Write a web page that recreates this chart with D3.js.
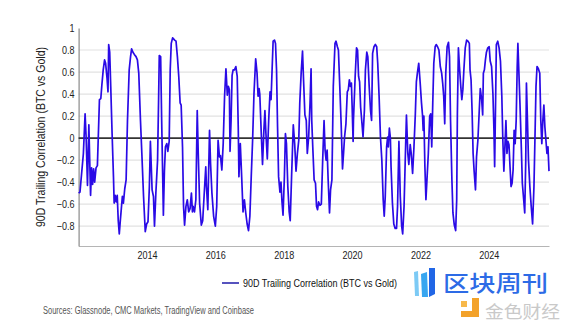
<!DOCTYPE html>
<html>
<head>
<meta charset="utf-8">
<script src="https://cdn.jsdelivr.net/npm/d3@7"></script>
<style>
  html, body { margin: 0; padding: 0; background: #fff; }
  svg { display: block; font-family: "Liberation Sans", Arial, sans-serif; }
</style>
</head>
<body>
<svg id="chart" width="572" height="328"></svg>
<script>
// ---------------- data ----------------
const seriesName = "90D Trailing Correlation (BTC vs Gold)";
const yTitle = "90D Trailing Correlation (BTC vs Gold)";
const sourceText = "Sources: Glassnode, CMC Markets, TradingView and Coinbase";
const yTicks = [1, 0.8, 0.6, 0.4, 0.2, 0, -0.2, -0.4, -0.6, -0.8];
const xTickYears = [2014, 2016, 2018, 2020, 2022, 2024];
const watermarkTitle = "区块周刊";
const watermarkSub = "金色财经";

// [decimal year, correlation]
const corrSeries = [
[2012.00,-0.50],[2012.04,-0.49],[2012.14,-0.14],[2012.19,0.22],[2012.22,0.01],[2012.26,-0.43],
[2012.30,0.12],[2012.35,-0.52],[2012.38,-0.27],[2012.41,-0.42],[2012.44,-0.28],[2012.47,-0.40],
[2012.51,-0.27],[2012.55,-0.25],[2012.61,0.35],[2012.65,0.36],[2012.68,0.48],[2012.72,0.62],
[2012.76,0.71],[2012.79,0.68],[2012.83,0.55],[2012.86,0.42],[2012.88,0.85],[2012.91,0.78],
[2012.94,0.47],[2012.98,0.04],[2013.02,-0.35],[2013.04,-0.59],[2013.07,-0.52],[2013.10,-0.58],
[2013.13,-0.52],[2013.16,-0.75],[2013.19,-0.87],[2013.22,-0.75],[2013.25,-0.64],[2013.28,-0.53],
[2013.31,-0.59],[2013.35,-0.46],[2013.39,-0.38],[2013.43,0.16],[2013.48,0.62],[2013.52,0.74],
[2013.55,0.81],[2013.59,0.78],[2013.63,0.76],[2013.68,0.74],[2013.72,0.71],[2013.76,0.59],
[2013.81,0.16],[2013.85,-0.14],[2013.90,-0.53],[2013.95,-0.85],[2013.99,-0.78],[2014.03,-0.76],
[2014.07,-0.44],[2014.10,-0.03],[2014.15,-0.47],[2014.19,-0.53],[2014.22,-0.80],[2014.26,-0.50],
[2014.31,-0.20],[2014.34,0.35],[2014.36,0.75],[2014.40,0.74],[2014.43,0.16],[2014.46,-0.35],
[2014.48,-0.70],[2014.51,-0.30],[2014.54,-0.08],[2014.58,-0.05],[2014.61,-0.12],[2014.65,-0.03],
[2014.68,0.62],[2014.71,0.86],[2014.75,0.91],[2014.81,0.89],[2014.85,0.88],[2014.89,0.74],
[2014.93,0.56],[2014.97,0.32],[2015.00,0.30],[2015.04,-0.08],[2015.07,-0.62],[2015.10,-0.79],
[2015.14,-0.62],[2015.18,-0.56],[2015.22,-0.67],[2015.26,-0.64],[2015.30,-0.50],[2015.33,-0.67],
[2015.35,-0.62],[2015.39,-0.67],[2015.43,-0.56],[2015.47,0.25],[2015.50,-0.14],[2015.54,-0.59],
[2015.59,-0.79],[2015.63,-0.75],[2015.67,-0.53],[2015.72,-0.26],[2015.74,-0.44],[2015.78,-0.65],
[2015.83,0.07],[2015.86,-0.23],[2015.90,-0.50],[2015.95,-0.71],[2016.00,-0.80],[2016.04,-0.62],
[2016.08,-0.02],[2016.12,-0.17],[2016.15,-0.16],[2016.19,-0.29],[2016.23,-0.05],[2016.27,0.38],
[2016.31,0.63],[2016.35,0.39],[2016.38,0.47],[2016.41,0.44],[2016.43,-0.12],[2016.46,0.16],
[2016.49,0.57],[2016.52,0.62],[2016.56,0.62],[2016.60,0.65],[2016.64,0.56],[2016.67,0.10],
[2016.69,-0.35],[2016.73,-0.05],[2016.77,-0.35],[2016.81,-0.67],[2016.85,-0.56],[2016.89,-0.68],
[2016.93,-0.78],[2016.97,-0.84],[2017.01,-0.71],[2017.05,-0.35],[2017.09,-0.02],[2017.13,0.40],
[2017.18,0.72],[2017.22,0.59],[2017.25,0.38],[2017.28,0.45],[2017.30,0.40],[2017.34,0.07],
[2017.38,-0.24],[2017.42,0.07],[2017.45,0.25],[2017.48,0.04],[2017.52,-0.19],[2017.56,0.16],
[2017.60,0.42],[2017.63,0.35],[2017.66,0.62],[2017.69,0.88],[2017.73,0.89],[2017.76,0.86],
[2017.79,0.62],[2017.82,0.10],[2017.85,-0.35],[2017.89,-0.49],[2017.92,-0.40],[2017.95,-0.58],
[2017.98,-0.70],[2018.02,-0.35],[2018.05,0.04],[2018.08,-0.05],[2018.12,-0.44],[2018.16,-0.67],
[2018.19,-0.75],[2018.23,-0.35],[2018.28,0.12],[2018.32,-0.05],[2018.36,-0.30],[2018.40,-0.14],
[2018.44,-0.02],[2018.47,0.32],[2018.51,0.59],[2018.55,0.79],[2018.58,0.53],[2018.62,0.21],
[2018.66,0.16],[2018.69,-0.14],[2018.73,0.01],[2018.77,0.32],[2018.80,0.63],[2018.82,0.16],
[2018.85,-0.08],[2018.89,-0.38],[2018.93,-0.41],[2018.96,-0.62],[2018.99,-0.65],[2019.02,-0.58],
[2019.06,-0.61],[2019.10,-0.60],[2019.14,-0.20],[2019.18,0.16],[2019.21,-0.11],[2019.24,-0.20],
[2019.27,-0.11],[2019.30,-0.38],[2019.34,-0.68],[2019.37,-0.47],[2019.41,-0.38],[2019.45,0.47],
[2019.50,0.86],[2019.53,0.88],[2019.57,0.83],[2019.60,0.80],[2019.64,0.47],[2019.68,0.13],
[2019.72,-0.28],[2019.75,-0.14],[2019.78,0.01],[2019.82,0.13],[2019.86,0.42],[2019.89,0.44],
[2019.92,0.53],[2019.95,0.47],[2019.98,0.50],[2020.00,0.30],[2020.03,-0.03],[2020.04,0.16],
[2020.09,0.56],[2020.13,0.82],[2020.16,0.80],[2020.19,0.56],[2020.22,0.51],[2020.25,0.28],
[2020.29,0.13],[2020.32,0.01],[2020.36,0.25],[2020.39,0.62],[2020.43,0.78],[2020.46,0.74],
[2020.50,0.47],[2020.54,0.25],[2020.57,0.16],[2020.60,0.77],[2020.64,0.83],[2020.68,0.85],
[2020.72,0.83],[2020.75,0.68],[2020.79,0.38],[2020.83,0.01],[2020.87,-0.20],[2020.91,-0.56],
[2020.94,-0.71],[2020.97,-0.53],[2021.01,-0.08],[2021.04,0.01],[2021.06,-0.08],[2021.09,0.09],
[2021.12,0.00],[2021.14,-0.26],[2021.18,-0.59],[2021.22,-0.78],[2021.26,-0.82],[2021.30,-0.82],
[2021.33,-0.62],[2021.37,-0.03],[2021.41,-0.53],[2021.45,-0.80],[2021.48,-0.87],[2021.52,-0.62],
[2021.55,-0.26],[2021.59,0.21],[2021.63,-0.14],[2021.66,-0.24],[2021.70,-0.06],[2021.73,-0.14],
[2021.77,-0.32],[2021.81,-0.08],[2021.85,0.22],[2021.88,0.51],[2021.91,0.59],[2021.95,0.68],
[2021.99,0.51],[2022.03,0.32],[2022.06,0.21],[2022.08,0.07],[2022.10,0.20],[2022.13,-0.26],
[2022.16,-0.56],[2022.19,-0.38],[2022.23,-0.14],[2022.27,0.20],[2022.30,0.22],[2022.33,-0.08],
[2022.36,0.32],[2022.39,0.68],[2022.43,0.83],[2022.46,0.85],[2022.50,0.83],[2022.54,0.80],
[2022.58,0.65],[2022.62,0.59],[2022.65,0.50],[2022.68,0.38],[2022.71,0.13],[2022.74,0.59],
[2022.78,0.83],[2022.82,0.87],[2022.85,0.74],[2022.88,0.16],[2022.92,-0.38],[2022.95,-0.68],
[2022.99,-0.79],[2023.03,-0.84],[2023.06,-0.56],[2023.08,0.22],[2023.11,0.82],[2023.14,0.65],
[2023.18,0.47],[2023.21,0.35],[2023.24,0.44],[2023.27,0.62],[2023.31,0.82],[2023.35,0.89],
[2023.39,0.88],[2023.43,0.86],[2023.45,0.62],[2023.48,0.53],[2023.51,0.25],[2023.54,-0.14],
[2023.57,-0.30],[2023.61,-0.47],[2023.64,-0.17],[2023.68,-0.02],[2023.72,0.25],[2023.75,0.45],
[2023.79,0.35],[2023.82,0.21],[2023.84,0.59],[2023.87,0.62],[2023.90,0.71],[2023.93,0.78],
[2023.97,0.82],[2024.01,0.83],[2024.04,0.70],[2024.08,0.65],[2024.12,0.40],[2024.15,0.07],
[2024.17,-0.26],[2024.20,0.38],[2024.22,0.85],[2024.26,0.88],[2024.30,0.82],[2024.34,0.70],
[2024.38,0.38],[2024.41,-0.02],[2024.44,-0.30],[2024.47,-0.08],[2024.50,0.16],[2024.53,-0.14],
[2024.56,-0.03],[2024.59,-0.06],[2024.62,-0.26],[2024.65,-0.44],[2024.68,-0.41],[2024.71,-0.29],
[2024.74,0.07],[2024.77,-0.05],[2024.80,0.16],[2024.83,0.65],[2024.85,0.86],[2024.88,0.59],
[2024.91,0.32],[2024.95,-0.08],[2024.98,-0.41],[2025.02,-0.56],[2025.05,-0.68],[2025.08,-0.20],
[2025.10,0.50],[2025.13,0.16],[2025.16,-0.20],[2025.20,-0.44],[2025.24,-0.62],[2025.28,-0.78],
[2025.32,-0.44],[2025.35,0.01],[2025.38,0.47],[2025.41,0.65],[2025.45,0.63],[2025.49,0.59],
[2025.52,0.16],[2025.55,-0.05],[2025.58,0.16],[2025.61,0.30],[2025.64,0.10],[2025.67,-0.02],
[2025.70,-0.14],[2025.73,-0.08],[2025.76,-0.30]
];

// ---------------- drawing ----------------
const svg = d3.select("#chart");
const plotLeft = 78.6, plotRight = 549, plotTop = 28, plotBottom = 246;

const x = d3.scaleLinear().domain([2012, 2025.76]).range([plotLeft, plotRight]);
const y = d3.scaleLinear().domain([-0.98, 1]).range([plotBottom, plotTop]);

function condense(sel, factor) {
  sel.each(function () {
    const w = this.getComputedTextLength();
    this.setAttribute("textLength", (w * factor).toFixed(1));
    this.setAttribute("lengthAdjust", "spacingAndGlyphs");
  });
}

// gridlines
svg.append("g").selectAll("line")
  .data(yTicks.filter(d => d !== 0 && d !== 1))
  .join("line")
  .attr("x1", plotLeft).attr("x2", plotRight)
  .attr("y1", d => y(d)).attr("y2", d => y(d))
  .attr("stroke", "#e2e2e2").attr("stroke-width", 1.2);

// bottom axis
const xAxis = svg.append("g")
  .attr("transform", `translate(0,${plotBottom})`)
  .call(d3.axisBottom(x).tickValues(xTickYears).tickFormat(d3.format("d")).tickSize(0).tickPadding(5));
xAxis.select(".domain").attr("stroke", "#b5b5b5").attr("stroke-width", 1.2);
xAxis.selectAll("text").attr("font-size", 11).attr("fill", "#222")
  .attr("font-family", '"Liberation Sans", Arial, sans-serif');
condense(xAxis.selectAll("text"), 0.82);

// left axis
const yFmt = d => (d === 0 || d === 1) ? String(d) : d3.format(".1f")(d);
const yAxis = svg.append("g")
  .attr("transform", `translate(${plotLeft},0)`)
  .call(d3.axisLeft(y).tickValues(yTicks).tickFormat(yFmt).tickSize(0).tickPadding(4));
yAxis.select(".domain").attr("stroke", "#8a8a8a").attr("stroke-width", 1.2);
yAxis.selectAll("text").attr("font-size", 11).attr("fill", "#222")
  .attr("font-family", '"Liberation Sans", Arial, sans-serif');
condense(yAxis.selectAll("text"), 0.82);

// zero line
svg.append("line")
  .attr("x1", plotLeft).attr("x2", plotRight)
  .attr("y1", y(0)).attr("y2", y(0))
  .attr("stroke", "#333").attr("stroke-width", 1.6);

// series line
const line = d3.line().x(d => x(d[0])).y(d => y(d[1]));
svg.append("path")
  .datum(corrSeries)
  .attr("d", line)
  .attr("fill", "none")
  .attr("stroke", "#2a0ae6")
  .attr("stroke-width", 1.7)
  .attr("stroke-linejoin", "round");

// y title
svg.append("text")
  .attr("transform", `translate(45,137) rotate(-90)`)
  .attr("text-anchor", "middle")
  .attr("font-size", 12.5)
  .attr("fill", "#222")
  .attr("textLength", 180)
  .attr("lengthAdjust", "spacingAndGlyphs")
  .text(yTitle);

// legend
const legend = svg.append("g");
legend.append("line")
  .attr("x1", 222).attr("x2", 239).attr("y1", 283).attr("y2", 283)
  .attr("stroke", "#1e1aa8").attr("stroke-width", 1.5);
legend.append("text")
  .attr("x", 243).attr("y", 287)
  .attr("font-size", 11).attr("fill", "#111")
  .attr("textLength", 154).attr("lengthAdjust", "spacingAndGlyphs")
  .text(seriesName);

// source
svg.append("text")
  .attr("x", 43).attr("y", 313.5)
  .attr("font-size", 10).attr("fill", "#555")
  .attr("textLength", 211).attr("lengthAdjust", "spacingAndGlyphs")
  .text(sourceText);

// watermark
const wm = svg.append("g");
wm.append("polygon").attr("points", "414,272 418,271 419,296 415,296").attr("fill", "#7ccaf5");
wm.append("polygon").attr("points", "421,274 427,272 428,297 422,297").attr("fill", "#38a6f0");
wm.append("polygon").attr("points", "429,268 435,268 435,294 429,297").attr("fill", "#2166e6");
wm.append("text")
  .attr("x", 443).attr("y", 291)
  .attr("font-family", '"Noto Sans CJK SC", sans-serif')
  .attr("font-size", 22).attr("font-weight", 500).attr("fill", "#2d6be6")
  .attr("textLength", 105).attr("lengthAdjust", "spacingAndGlyphs")
  .text(watermarkTitle);
wm.append("rect").attr("x", 461).attr("y", 301).attr("width", 6).attr("height", 6).attr("fill", "#f7b84a");
wm.append("path").attr("d", "M472,298 h7 v19 h-18 v-6 h11 z").attr("fill", "#f3a22a");
wm.append("text")
  .attr("x", 485).attr("y", 318)
  .attr("font-family", '"Noto Sans CJK SC", sans-serif')
  .attr("font-size", 17).attr("fill", "#c9c9c9")
  .attr("textLength", 75).attr("lengthAdjust", "spacingAndGlyphs")
  .text(watermarkSub);
</script>
</body>
</html>
